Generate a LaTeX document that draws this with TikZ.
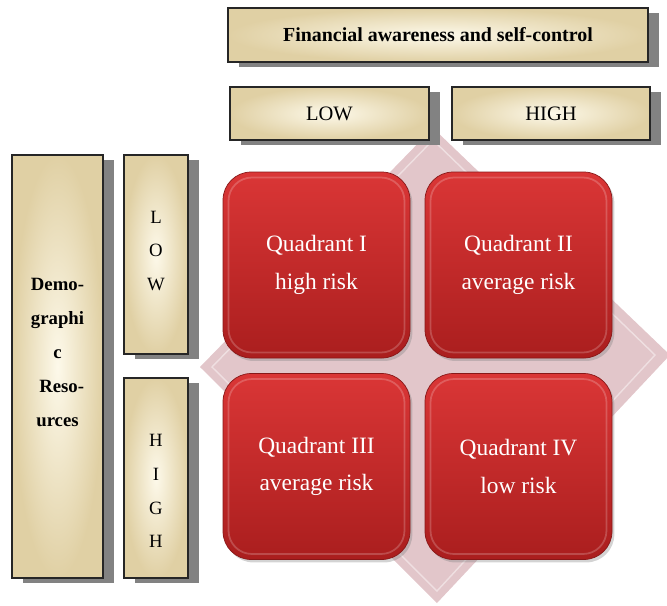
\documentclass[tikz,border=0pt]{standalone}
\usepackage{fontspec}
\setmainfont{Liberation Serif}
\usetikzlibrary{positioning, shadows}

\definecolor{beigeEdge}{RGB}{224,208,164}
\definecolor{beigeMid}{RGB}{253,249,234}
\definecolor{quadTop}{RGB}{218,54,54}
\definecolor{quadBot}{RGB}{170,30,30}
\definecolor{diamondFill}{RGB}{226,198,202}
\definecolor{shadowGray}{RGB}{130,130,130}

\begin{document}
\begin{tikzpicture}[x=0.03cm, y=-0.03cm,
  size/.style 2 args={minimum width=#1*0.03cm, minimum height=#2*0.03cm},
  beigebox/.style={draw=black!85, line width=1pt, inner sep=0pt,
    inner color=beigeMid, outer color=beigeEdge,
    drop shadow={shadow xshift=9.5pt, shadow yshift=-4.5pt,
      fill=shadowGray, opacity=1}},
  quadbox/.style={size={187}{186}, rounded corners=24pt, inner sep=0pt,
    draw=quadBot!80!black, line width=0.6pt,
    top color=quadTop, bottom color=quadBot,
    drop shadow={shadow xshift=2pt, shadow yshift=-2.5pt, opacity=.35},
    text=white, align=center, font=\fontsize{20}{32}\selectfont},
  letters/.style={align=center, font=\fontsize{16}{29}\selectfont}]

  \useasboundingbox (0,0) rectangle (667,605);

  % Background diamond
  \coordinate (dt) at (433,128);
  \coordinate (dr) at (670,355);
  \coordinate (db) at (437,603);
  \coordinate (dl) at (200,367);
  \fill[diamondFill] (dt) -- (dr) -- (db) -- (dl) -- cycle;
  \draw[white, opacity=.45, line width=1.2pt]
    (433,140) -- (655,355) -- (437,591) -- (212,367) -- cycle;

  % Header boxes
  \node[beigebox, size={420}{54}, font=\bfseries\fontsize{17}{18}\selectfont]
    (title) at (438,35) {Financial awareness and self-control};
  \node[beigebox, size={199}{53}, font=\fontsize{17.5}{18}\selectfont]
    (lowX) at (329.5,113.5) {LOW};
  \node[beigebox, size={198}{53}, font=\fontsize{17.5}{18}\selectfont]
    (highX) at (551,113.5) {HIGH};

  % Side boxes
  \node[beigebox, size={91}{423},
    label={[align=center, yshift=12pt, font=\bfseries\fontsize{16}{29}\selectfont]
      center:Demo-\\graphi\\c\\\hspace*{0.45em}Reso-\\urces}]
    (demo) at (57.5,366.5) {};
  \node[beigebox, size={64}{199},
    label={[letters, yshift=3pt]center:L\\O\\W}] (lowY) at (156,254.5) {};
  \node[beigebox, size={64}{200},
    label={[letters, yshift=-11pt]center:H\\I\\G\\H}] (highY) at (156,478) {};

  % Quadrants
  \node[quadbox] (q1) at (316.5,265) {Quadrant I\\high risk};
  \node[quadbox] (q2) at (518.5,265) {Quadrant II\\average risk};
  \node[quadbox] (q3) at (316.5,466.5) {Quadrant III\\average risk};
  \node[quadbox] (q4) at (518.5,466.5) {Quadrant IV\\low risk};

  % Highlights on quadrants
  \foreach \q in {q1,q2,q3,q4}
    \draw[white, opacity=.2, line width=1.5pt, rounded corners=20pt]
      ([shift={(5pt,-5pt)}]\q.north west) rectangle ([shift={(-5pt,5pt)}]\q.south east);
\end{tikzpicture}
\end{document}
